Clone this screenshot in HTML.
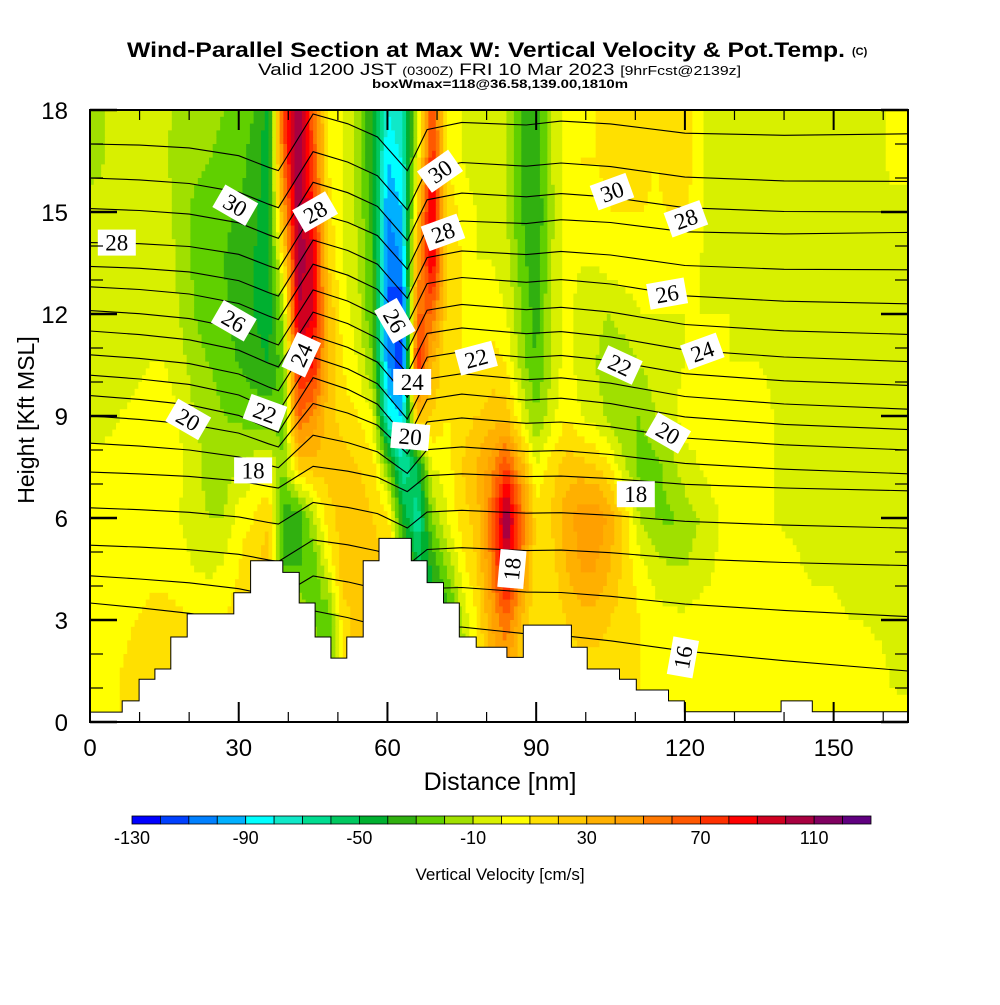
<!DOCTYPE html>
<html><head><meta charset="utf-8"><style>
body{margin:0;background:#fff;}
svg text{font-family:"Liberation Sans",sans-serif;}
</style></head><body>
<svg id="chart" width="1000" height="1000" viewBox="0 0 1000 1000" xmlns="http://www.w3.org/2000/svg">
<rect width="1000" height="1000" fill="#fff"/>
<text x="127" y="57" font-size="21" font-weight="bold" textLength="718" lengthAdjust="spacingAndGlyphs">Wind-Parallel Section at Max W: Vertical Velocity &amp; Pot.Temp.</text>
<text x="852" y="55" font-size="11" font-weight="bold">(C)</text>
<text x="258" y="75" font-size="17" textLength="483" lengthAdjust="spacingAndGlyphs">Valid 1200 JST <tspan font-size="12">(0300Z)</tspan> FRI 10 Mar 2023 <tspan font-size="13">[9hrFcst@2139z]</tspan></text>
<text x="372" y="88" font-size="12" font-weight="bold" textLength="256" lengthAdjust="spacingAndGlyphs">boxWmax=118@36.58,139.00,1810m</text>
<g id="field"></g>
<g id="isen"></g>
<g id="terrain"></g>
<g id="labels"></g>
<g id="axes"></g>
<g id="cbar"></g>
<text x="500" y="790" text-anchor="middle" font-size="25">Distance [nm]</text>
<text transform="translate(34,420) rotate(-90)" text-anchor="middle" font-size="23">Height [Kft MSL]</text>
<text x="500" y="880" text-anchor="middle" font-size="17">Vertical Velocity [cm/s]</text>
</svg>
<script>
// ---- data ----
const gridX = [0,3,6,9,12,15,18,21,24,27,30,33,36,39,42,45,48,51,54,57,60,63,66,69,72,75,78,81,84,87,90,93,96,99,102,105,108,111,114,117,120,123,126,129,132,135,138,141,144,147,150,153,156,159,162,165];
const gridH = [18,16.5,15,13.5,12,10.5,9,7.5,6,4.5,3,1.5,0];
const wCols = [
[-12,-12,-8,-8,-5,-8,-3,2,5,5,5,5,5],
[-10,-10,-8,-5,-5,-5,-3,3,5,5,6,8,8],
[-8,-8,-5,-3,-3,-3,0,5,5,5,8,10,10],
[-5,-5,-3,-2,-3,-3,2,5,5,6,10,12,12],
[-5,-5,-3,-2,-2,0,5,5,5,8,12,13,13],
[-8,-8,-5,-3,-5,0,5,5,3,8,13,15,15],
[-12,-15,-15,-12,-10,-5,0,2,0,5,12,15,15],
[-15,-18,-22,-22,-20,-15,-10,-5,-5,0,10,12,12],
[-18,-20,-25,-25,-25,-20,-15,-15,-10,-2,8,10,10],
[-20,-22,-28,-30,-28,-25,-20,-15,-10,2,10,12,12],
[-22,-25,-30,-35,-35,-30,-22,-10,5,10,15,15,15],
[-30,-35,-38,-40,-40,-35,-25,-5,10,20,20,20,20],
[-45,-45,-45,-45,-45,-40,-25,0,20,25,25,25,25],
[70,60,40,10,-15,-25,-25,-20,-35,-30,20,20,20],
[115,115,110,105,100,80,60,20,-40,-30,-10,20,20],
[60,70,80,95,90,80,50,25,-10,-30,-20,-10,-10],
[10,10,15,20,30,30,25,25,15,0,-30,-30,-30],
[0,0,0,0,5,10,15,25,25,25,15,10,10],
[-15,-15,-12,-10,-5,0,10,20,25,25,25,25,25],
[-40,-40,-35,-30,-30,-20,0,15,20,25,25,25,25],
[-80,-90,-100,-110,-110,-100,-80,-20,15,20,20,20,20],
[-70,-80,-90,-100,-120,-120,-90,-70,-40,0,0,0,0],
[-10,0,20,40,60,80,30,-50,-70,-50,-40,-40,-40],
[70,80,100,90,60,30,20,0,-20,-40,-40,-40,-40],
[10,10,20,20,15,10,10,5,0,-20,-40,-40,-40],
[0,0,5,10,10,10,15,20,15,5,-10,-20,-20],
[-5,-5,0,0,5,10,20,30,25,20,10,10,10],
[-5,-5,-5,0,5,15,25,45,60,50,40,30,30],
[-10,-10,-10,-5,0,10,25,70,110,100,60,40,40],
[-30,-30,-30,-25,-20,-15,0,35,60,50,30,20,20],
[-40,-40,-40,-40,-35,-30,-20,0,15,15,10,10,10],
[-10,-10,-15,-10,-10,-10,-5,15,20,15,10,10,10],
[5,5,5,5,5,5,10,25,35,30,20,15,15],
[8,10,5,0,-5,-5,0,25,45,40,25,15,15],
[10,10,5,0,-8,-10,-5,20,50,40,25,15,15],
[15,15,10,5,-10,-15,-15,10,35,30,20,15,15],
[15,15,10,5,-5,-15,-20,-10,15,15,15,15,15],
[15,15,10,5,0,-10,-20,-25,-10,5,10,10,10],
[10,10,8,5,0,-5,-10,-25,-20,-5,5,8,8],
[15,15,10,5,0,-3,-5,-15,-22,-10,3,5,5],
[15,15,10,5,0,0,5,-5,-15,-10,2,5,5],
[5,5,5,0,0,0,5,0,-10,-5,5,5,5],
[-10,-10,-10,-5,0,0,5,5,-2,0,5,8,8],
[-10,-10,-8,-5,0,0,5,5,3,5,5,8,8],
[-5,-5,-5,-5,-5,0,5,5,5,5,5,5,5],
[-5,-5,-5,-3,-3,0,5,5,5,5,5,5,5],
[-5,-5,-5,-3,-5,-3,0,0,0,5,5,5,5],
[-5,-5,-5,-5,-5,-3,-3,-3,-3,5,8,5,5],
[-5,-5,-5,-5,-5,-5,-5,-5,-5,0,5,5,5],
[-5,-5,-5,-5,-5,-5,-5,-5,-5,-3,5,5,5],
[-5,-5,-5,-5,-5,-5,-5,-5,-5,-3,5,5,5],
[-5,-5,-5,-5,-5,-5,-5,-5,-5,-5,0,5,5],
[-5,-5,-5,-5,-5,-5,-5,-5,-5,-5,0,5,5],
[-5,-5,-5,-5,-5,-5,-5,-5,-5,-5,-3,5,5],
[5,5,-5,-5,-5,-5,-5,-5,-5,-5,-5,-3,5],
[5,5,-5,-5,-5,-5,-5,-5,-5,-5,-5,-5,5]
];
const cbColors = ["#0000ff","#0040ff","#0080ff","#00b0ff","#00ffff","#10e8c8","#00dc90","#00c860","#00b030","#30b010","#60d000","#a0e000","#d8f000","#ffff00","#ffe000","#ffc800","#ffb000","#ffa000","#ff7800","#ff5800","#ff3000","#ff0000","#d00020","#a80040","#800060","#600080"];
const cbLabels = ["-130","-90","-50","-10","30","70","110"];
const cbLabelIdx = [0,4,8,12,16,20,24];
const terrainEdges = [0,6.5,9.9,13.1,16.3,19.6,29.0,32.4,38.9,42.2,45.4,48.6,51.8,55.1,58.3,64.8,68.0,71.3,74.5,77.9,84.1,87.4,97.1,100.3,106.8,110.2,116.7,119.9,139.4,145.7,165];
const terrainH = [0.29,0.62,1.26,1.56,2.5,3.18,3.8,4.74,4.4,3.5,2.5,1.88,2.5,4.74,5.4,4.74,4.1,3.5,2.5,2.2,1.9,2.85,2.2,1.56,1.26,0.94,0.62,0.3,0.62,0.3];
const thetaLevels = [31,30,29,28,27,26,25,24,23,22,21,20,19,18,17,16,15,14];
const thetaLeftH = [17.0,16.0,15.1,14.1,13.4,12.8,12.1,11.5,10.8,10.2,9.6,9.0,8.2,7.35,6.3,5.2,4.3,3.5];
const thetaRightH = [17.3,15.9,15.0,14.4,13.3,12.3,11.4,10.6,9.9,9.2,8.6,8.0,7.3,6.8,5.7,4.6,3.1,1.5];
const shapeX = [0,10,20,30,36,38,45,52,58,64,68,75,88,95,105,120,140,165];
const shapeOff = [0,-0.05,-0.15,-0.4,-0.75,-0.85,0.8,0.5,0.1,-0.9,0.3,0.5,0.4,0.5,0.4,0.1,0,0];
const labelX = [5.4,29.3,45.4,70.6,71.2,29.0,61.5,42.6,65,77.9,35.3,19.8,64.6,32.9,105.3,120.2,116.4,123.5,106.9,116.6,110.1,85.1,119.6];
const labelH = [14.1,15.2,15.0,16.2,14.4,11.8,11.8,10.8,10.0,10.7,9.1,8.9,8.4,7.4,15.6,14.8,12.6,10.9,10.5,8.5,6.7,4.5,1.9];
const labelText = ["28","30","28","30","28","26","26","24","24","22","22","20","20","18","30","28","26","24","22","20","18","18","16"];
const labelRot = [0,30,-30,-35,-20,30,60,-65,0,-15,20,30,5,0,-20,-20,-10,-20,25,30,0,-85,-80];
const xTicks = [0,30,60,90,120,150];
const yTicks = [0,3,6,9,12,15,18];

// ---- scales ----
const X0=90,X1=908,Y0=722,Y1=110,XMAX=165,HMAX=18;
const sx = nm => X0 + nm*(X1-X0)/XMAX;
const sy = h => Y0 - h*(Y0-Y1)/HMAX;
const NS="http://www.w3.org/2000/svg";
function mk(tag, attrs, parent){const e=document.createElementNS(NS,tag);for(const k in attrs)e.setAttribute(k,attrs[k]);parent.appendChild(e);return e;}

function wAt(x,h){
  const fx = x/3; let ci=Math.min(Math.floor(fx),gridX.length-2); const tx=fx-ci;
  const fy=(18-h)/1.5; let ri=Math.min(Math.floor(fy),gridH.length-2); const ty=fy-ri;
  const a=wCols[ci][ri],b=wCols[ci+1][ri],c=wCols[ci][ri+1],d=wCols[ci+1][ri+1];
  return (a*(1-tx)+b*tx)*(1-ty)+(c*(1-tx)+d*tx)*ty;
}
function binOf(v){return Math.max(0,Math.min(25,Math.floor(v/10)+13));}

// field
const field=document.getElementById('field');
const DX=0.75, DH=0.2;
const nx=Math.round(XMAX/DX), ny=Math.round(HMAX/DH);
for(let j=0;j<ny;j++){
  const hTop=HMAX-j*DH, hc=hTop-DH/2;
  let runStart=0, runBin=binOf(wAt(DX/2,hc));
  for(let i=1;i<=nx;i++){
    const b = i<nx ? binOf(wAt(i*DX+DX/2,hc)) : -1;
    if(b!==runBin){
      const x0=sx(runStart*DX), x1=sx(i*DX);
      const r=mk('rect',{x:x0.toFixed(2),y:sy(hTop).toFixed(2),width:(x1-x0+0.6).toFixed(2),height:((Y0-Y1)/HMAX*DH+0.6).toFixed(2),fill:cbColors[runBin]},field);
      
      
      runStart=i; runBin=b;
    }
  }
}

// isentropes
const isen=document.getElementById('isen');
thetaLevels.forEach((L,k)=>{
  const damp = L>=21?1:(L==20?0.8:(L==19?0.6:0.4));
  const pts=shapeX.map((x,m)=>{
    const base=thetaLeftH[k]+(thetaRightH[k]-thetaLeftH[k])*x/XMAX;
    const h=base+shapeOff[m]*damp;
    return sx(x).toFixed(1)+','+sy(h).toFixed(1);
  });
  const p=mk('polyline',{points:pts.join(' '),fill:'none',stroke:'#000','stroke-width':'1.1'},isen);
  
  
});

// terrain
const ter=document.getElementById('terrain');
let d='M'+sx(0)+','+sy(0);
terrainH.forEach((h,k)=>{d+=' L'+sx(terrainEdges[k]).toFixed(1)+','+sy(h).toFixed(1)+' L'+sx(terrainEdges[k+1]).toFixed(1)+','+sy(h).toFixed(1);});
d+=' L'+sx(XMAX)+','+sy(0)+' Z';
const tp=mk('path',{d:d,fill:'#fff',stroke:'#000','stroke-width':'1'},ter);



// labels
const lab=document.getElementById('labels');
labelText.forEach((t,k)=>{
  const g=mk('g',{transform:`translate(${sx(labelX[k]).toFixed(1)},${sy(labelH[k]).toFixed(1)}) rotate(${labelRot[k]})`},lab);
  
  
  mk('rect',{x:-19,y:-13,width:38,height:26,fill:'#fff'},g);
  const tx=mk('text',{x:0,y:8,'text-anchor':'middle','font-size':'23',style:'font-family:"Liberation Serif",serif'},g);
  tx.textContent=t;
});

// axes
const ax=document.getElementById('axes');
const fr=mk('rect',{x:X0,y:Y1,width:X1-X0,height:Y0-Y1,fill:'none',stroke:'#000','stroke-width':'2'},ax);


for(let x=0;x<=XMAX;x+=10){
  const major = x%30===0, L = major?20:10;
  mk('line',{x1:sx(x),x2:sx(x),y1:Y0,y2:Y0-L,stroke:'#000','stroke-width':major?2:1.2},ax);
  mk('line',{x1:sx(x),x2:sx(x),y1:Y1,y2:Y1+L,stroke:'#000','stroke-width':major?2:1.2},ax);
}
for(let h=0;h<=HMAX;h+=1){
  const major=h%3===0, L=major?27:13;
  mk('line',{x1:X0,x2:X0+L,y1:sy(h),y2:sy(h),stroke:'#000','stroke-width':major?2.5:1.2},ax);
  mk('line',{x1:X1,x2:X1-L,y1:sy(h),y2:sy(h),stroke:'#000','stroke-width':major?2.5:1.2},ax);
}
xTicks.forEach(v=>{const t=mk('text',{x:sx(v),y:756,'text-anchor':'middle','font-size':'24'},ax);t.textContent=v;
  });
yTicks.forEach(v=>{const t=mk('text',{x:68,y:sy(v)+9,'text-anchor':'end','font-size':'24'},ax);t.textContent=v;
  });

// colorbar
const cb=document.getElementById('cbar');
const CB0=132,CB1=871,cw=(CB1-CB0)/cbColors.length;
cbColors.forEach((c,k)=>{
  const r=mk('rect',{x:CB0+k*cw,y:816,width:cw,height:8,fill:c,stroke:'#000','stroke-width':'0.8'},cb);
  
  
});
cbLabels.forEach((t,k)=>{
  const e=mk('text',{x:CB0+cbLabelIdx[k]*cw,y:844,'text-anchor':'middle','font-size':'18'},cb);
  e.textContent=t;
  
  
});
</script>
</body></html>
